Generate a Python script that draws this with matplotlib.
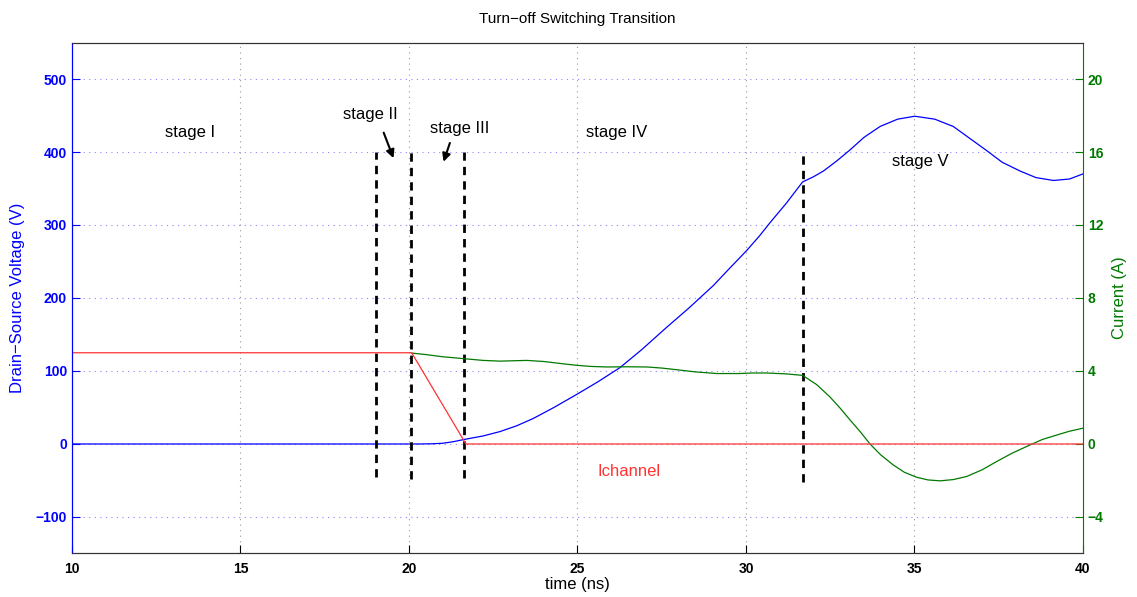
import matplotlib
matplotlib.use("Agg")
import matplotlib.pyplot as plt

plt.rcParams['font.family'] = ['Liberation Sans', 'DejaVu Sans']

# Drain-source voltage (V)
t_v = [10, 20.3, 20.7, 21.0, 21.3, 21.66, 22.2, 22.7, 23.2, 23.69, 24.3, 24.98, 25.6, 26.26,
       26.9, 27.65, 28.3, 29.03, 29.5, 30.02, 30.4, 30.71, 31.2, 31.68,
       32.0, 32.3, 32.7, 33.09, 33.5, 33.98, 34.5, 35.01, 35.6, 36.15, 36.6, 37.14,
       37.6, 38.13, 38.6, 39.12, 39.6, 40.0]
v_ds = [0, 0, 0.3, 1, 3, 6.4, 11, 17, 25, 35, 50, 68, 85, 104.6,
        129, 160, 186, 217, 240, 265, 285, 303, 330, 359,
        366, 374, 388, 403, 420, 435, 445, 449, 445, 435, 420, 402,
        386, 374, 365, 361, 363, 370]

# Current (A) on right axis
t_i = [20.08, 20.5, 21.0, 21.66, 22.2, 22.7, 23.1, 23.49, 24.0, 24.5, 24.98, 25.4, 25.87,
       26.5, 27.06, 27.5, 27.94, 28.5, 29.13, 29.8, 30.2, 30.61, 31.2, 31.68,
       32.1, 32.49, 32.8, 33.09, 33.4, 33.68, 34.0, 34.37, 34.7, 35.06, 35.4, 35.76,
       36.15, 36.55, 37.0, 37.44, 37.9, 38.43, 38.8, 39.22, 39.6, 39.99]
i_d = [4.98, 4.9, 4.78, 4.67, 4.58, 4.54, 4.56, 4.58, 4.52, 4.41, 4.31, 4.25, 4.22,
       4.23, 4.22, 4.16, 4.07, 3.95, 3.86, 3.86, 3.89, 3.89, 3.84, 3.76,
       3.25, 2.58, 1.95, 1.31, 0.65, 0.0, -0.6, -1.15, -1.55, -1.82, -1.97, -2.02,
       -1.95, -1.78, -1.42, -0.96, -0.5, -0.05, 0.25, 0.49, 0.7, 0.86]

# Channel current (A)
t_ch = [10, 20.08, 21.69, 40]
i_ch = [5, 5, 0, 0]

# stage boundaries (ns) and their extents (V)
t_lines = [19.02, 20.06, 21.63, 31.68]
line_bot = [-45, -48, -46, -52]
line_top = 400

fig = plt.figure(figsize=(11.37, 5.97), dpi=100)
ax = fig.add_axes([0.0633, 0.0729, 0.8892, 0.8559])
ax2 = ax.twinx()

blue = '#0000ff'
green = '#007a00'

ax.plot(t_v, v_ds, color=blue, lw=0.9)
ax2.plot(t_i, i_d, color=green, lw=0.9)
ax2.plot(t_ch, i_ch, color='#ff3333', lw=0.9)

for x, b in zip(t_lines, line_bot):
    ax.plot([x, x], [b, line_top], color='black', ls=(0, (3, 2.2)), lw=2)

ax.set_xlim(10, 40)
ax.set_ylim(-150, 550)
ax2.set_ylim(-6, 22)
ax.set_xticks([10, 15, 20, 25, 30, 35, 40])
ax.set_yticks(range(-100, 501, 100))
ax2.set_yticks(range(-4, 21, 4))
ax.set_yticklabels(['\u2212100', '0', '100', '200', '300', '400', '500'])
ax2.set_yticklabels(['\u22124', '0', '4', '8', '12', '16', '20'])

# grid like MATLAB: dotted
for x in [15, 20, 25, 30, 35]:
    ax.axvline(x, color='#999999', ls=(0, (1, 4)), lw=0.8, zorder=0)
for y in range(-100, 501, 100):
    ax.axhline(y, color='#8888ff', ls=(0, (1, 4)), lw=0.8, zorder=0)

ax.tick_params(axis='x', direction='in', length=6, labelsize=10, colors='black', pad=6)
ax.tick_params(axis='y', direction='in', length=6, labelsize=10, colors=blue)
ax2.tick_params(axis='y', direction='in', length=6, labelsize=10, colors=green)
for lab in ax.get_xticklabels() + ax.get_yticklabels() + ax2.get_yticklabels():
    lab.set_fontweight('bold')

ax.spines['left'].set_color(blue)
ax2.spines['left'].set_color(blue)
ax2.spines['right'].set_color(green)
ax.spines['right'].set_visible(False)
for sp in ['top', 'bottom']:
    ax.spines[sp].set_color('#333333')
    ax2.spines[sp].set_color('#333333')

ax.set_xlabel('time (ns)', fontsize=12, labelpad=1)
ax.set_ylabel('Drain\u2212Source Voltage (V)', fontsize=12, color=blue, labelpad=8)
ax2.set_ylabel('Current (A)', fontsize=12, color=green, labelpad=6)
ax.set_title('Turn\u2212off Switching Transition', fontsize=11, pad=14)

fs = 12
ax.text(13.5, 427, 'stage I', fontsize=fs, ha='center', va='center')
ax.text(18.85, 451, 'stage II', fontsize=fs, ha='center', va='center')
ax.text(21.51, 432, 'stage III', fontsize=fs, ha='center', va='center')
ax.text(26.17, 427, 'stage IV', fontsize=fs, ha='center', va='center')
ax.text(35.16, 387, 'stage V', fontsize=fs, ha='center', va='center')
ax.text(26.53, -38, 'Ichannel', fontsize=fs, ha='center', va='center', color='#ff3333')

ax.annotate('', xy=(19.57, 388), xytext=(19.22, 430),
            arrowprops=dict(arrowstyle='-|>', color='black', lw=1.5, mutation_scale=12))
ax.annotate('', xy=(21.0, 383), xytext=(21.24, 416),
            arrowprops=dict(arrowstyle='-|>', color='black', lw=1.5, mutation_scale=12))

fig.savefig('out.png', dpi=100)
